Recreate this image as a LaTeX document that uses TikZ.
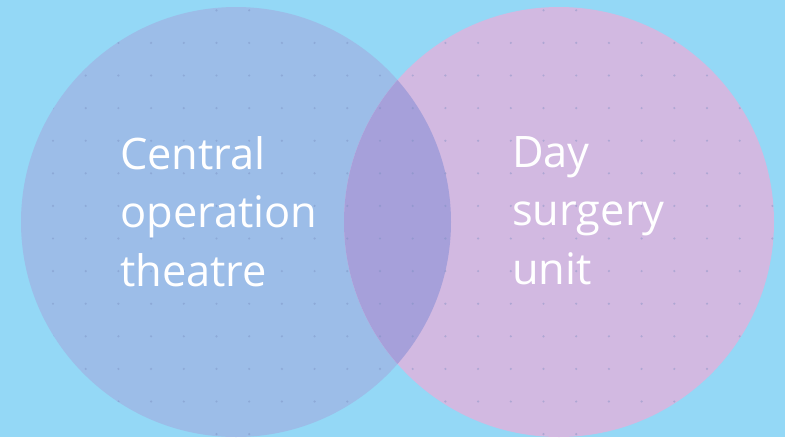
\documentclass[tikz,border=0pt]{standalone}
\usepackage{fontspec}
\setmainfont{Open Sans}
\definecolor{bgc}{RGB}{148,216,246}
\definecolor{leftc}{RGB}{156,189,232}
\definecolor{rightc}{RGB}{210,185,225}
\definecolor{overc}{RGB}{166,160,218}
\definecolor{dotc}{RGB}{120,140,190}
\tikzset{
  lbl/.style={text=white, font=\fontsize{43.4}{58.5}\selectfont, align=left, anchor=north west, inner sep=0pt},
}
\begin{document}
\begin{tikzpicture}[x=1pt,y=-1pt]
\fill[bgc] (0,0) rectangle (785,437);
\useasboundingbox (0,0) rectangle (785,437);
\coordinate (cl) at (236,222);
\coordinate (cr) at (559,222);
\fill[leftc] (cl) circle[radius=215];
\fill[rightc] (cr) circle[radius=215];
\begin{scope}
  \clip (cl) circle[radius=215];
  \fill[overc] (cr) circle[radius=215];
\end{scope}
\begin{scope}
  \clip (cl) circle[radius=215] (cr) circle[radius=215];
  \foreach \i in {0,...,23}{
    \foreach \j in {0,...,13}{
      \fill[dotc, opacity=0.4] ({20.3+32.7*\i},{10.3+32.6*\j}) circle[radius=1.2];
    }
  }
\end{scope}
\node[lbl] (tl) at (120,136) {Central\\operation\\theatre};
\node[lbl] (tr) at (512,136) {Day\\surgery\\unit};
\end{tikzpicture}
\end{document}
